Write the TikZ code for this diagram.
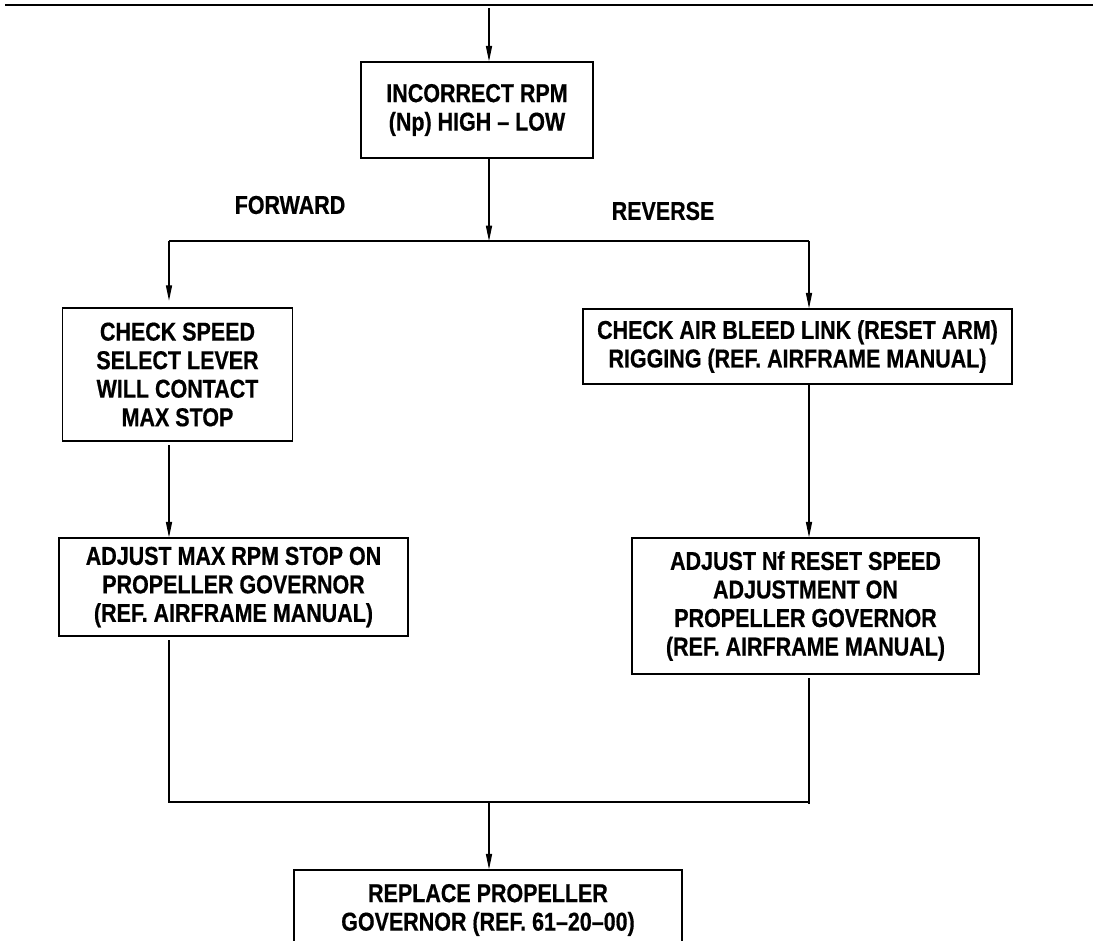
\documentclass[tikz,border=0pt]{standalone}
\usepackage{fontspec}
\setmainfont{Liberation Sans}[FakeStretch=0.83, BoldFeatures={FakeBold=0.5}]
\usetikzlibrary{arrows.meta}

\tikzset{
  stepbox/.style={draw=black, line width=1.1pt, align=center, inner sep=2pt,
    font=\bfseries\fontsize{19.4pt}{21.4pt}\selectfont},
  flow/.style={line width=0.8pt, draw=black},
  flowarrow/.style={flow, -{Triangle[length=11.5pt,width=4.6pt]}},
  branchlabel/.style={font=\bfseries\fontsize{19.4pt}{21.4pt}\selectfont, inner sep=0pt}
}

\begin{document}
\begin{tikzpicture}[x=0.75pt, y=-0.75pt]
  \useasboundingbox (0,0) rectangle (1098,940);
  \clip (0,0) rectangle (1098,940);

  % heading rule
  \coordinate (ruleL) at (5,5);
  \coordinate (ruleR) at (1093,5);
  \draw[line width=1.5pt] (ruleL) -- (ruleR);

  % junction points
  \coordinate (entry) at (489,8);
  \coordinate (split) at (489,241);
  \coordinate (jL) at (169,241);
  \coordinate (jR) at (809,241);
  \coordinate (merge) at (489,802);
  \coordinate (mL) at (169,802);
  \coordinate (mR) at (809,802);

  % boxes
  \node[stepbox, minimum width=174pt, minimum height=72pt] (fault) at (477,110)
    {INCORRECT RPM\\(Np) HIGH -- LOW};
  \node[stepbox, minimum width=172.5pt, minimum height=99.75pt] (chkspeed) at (177.5,374.5)
    {CHECK SPEED\\SELECT LEVER\\WILL CONTACT\\MAX STOP};
  \node[stepbox, minimum width=321.75pt, minimum height=56.25pt] (chkbleed) at (797.5,346.5)
    {CHECK AIR BLEED LINK (RESET ARM)\\RIGGING (REF. AIRFRAME MANUAL)};
  \node[stepbox, minimum width=261.75pt, minimum height=73.5pt] (adjmax) at (233.5,587)
    {ADJUST MAX RPM STOP ON\\PROPELLER GOVERNOR\\(REF. AIRFRAME MANUAL)};
  \node[stepbox, minimum width=260.25pt, minimum height=102pt] (adjnf) at (805.5,606)
    {ADJUST Nf RESET SPEED\\ADJUSTMENT ON\\PROPELLER GOVERNOR\\(REF. AIRFRAME MANUAL)};
  \node[stepbox, minimum width=291pt, minimum height=60pt] (replace) at (488,910)
    {REPLACE PROPELLER\\GOVERNOR (REF. 61--20--00)};

  % branch labels
  \node[branchlabel] (fwd) at (290,205) {FORWARD};
  \node[branchlabel] (rev) at (663,211) {REVERSE};

  % connectors
  \draw[flowarrow] (entry) -- (entry |- fault.north);
  \draw[flowarrow] (fault.south -| split) -- (split);
  \draw[flow] (jL) -- (jR);
  \draw[flowarrow, shorten >=5pt] (jL) -- (jL |- chkspeed.north);
  \draw[flowarrow] (jR) -- (jR |- chkbleed.north);
  \draw[flowarrow, shorten <=2.5pt] (chkspeed.south -| jL) -- (jL |- adjmax.north);
  \draw[flowarrow] (chkbleed.south -| jR) -- (jR |- adjnf.north);
  \draw[flow, shorten <=2.5pt] (adjmax.south -| mL) -- (mL) -- (mR);
  \draw[flow, shorten <=2.5pt, shorten >=-1.5pt] (adjnf.south -| mR) -- (mR);
  \draw[flowarrow] (merge) -- (merge |- replace.north);
\end{tikzpicture}
\end{document}
